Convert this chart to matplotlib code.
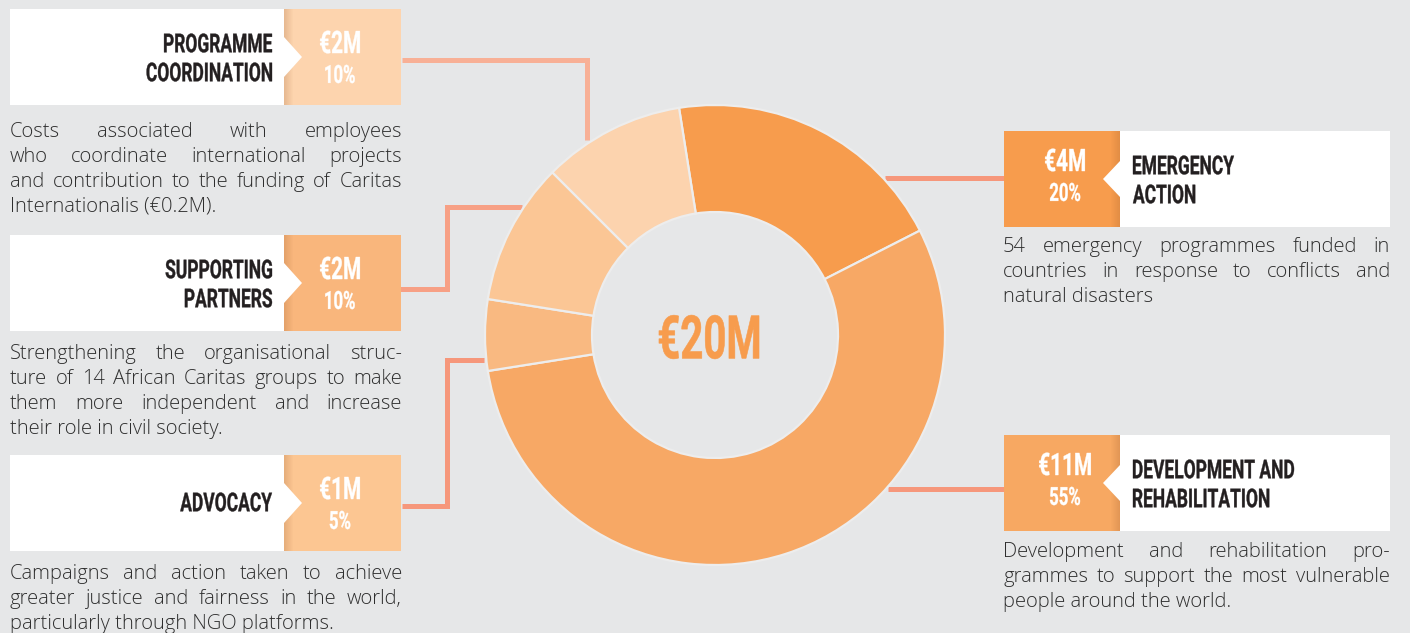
import matplotlib.pyplot as plt
from matplotlib.patches import Rectangle, Polygon, PathPatch
from matplotlib.textpath import TextPath
from matplotlib.font_manager import FontProperties
from matplotlib.transforms import Affine2D

# ==========================================
# Data (pie order, clockwise from the top)
# ==========================================

categories = ['EMERGENCY\nACTION',
              'DEVELOPMENT AND\nREHABILITATION',
              'ADVOCACY',
              'SUPPORTING\nPARTNERS',
              'PROGRAMME\nCOORDINATION']
amounts = [4, 11, 1, 2, 2]          # million euro
shares = [20, 55, 5, 10, 10]        # percent
total_label = '€20M'

descriptions = [
    ['54 emergency programmes funded in',
     'countries in response to conflicts and',
     'natural disasters'],
    ['Development and rehabilitation pro-',
     'grammes to support the most vulnerable',
     'people around the world.'],
    ['Campaigns and action taken to achieve',
     'greater justice and fairness in the world,',
     'particularly through NGO platforms.'],
    ['Strengthening the organisational struc-',
     'ture of 14 African Caritas groups to make',
     'them more independent and increase',
     'their role in civil society.'],
    ['Costs associated with employees',
     'who coordinate international projects',
     'and contribution to the funding of Caritas',
     'Internationalis (€0.2M).'],
]

# ==========================================
# Style / layout
# ==========================================

W, H = 1410, 633
BG = '#E6E7E8'
slice_colors = ['#F79C4D', '#F7A865', '#F9B981', '#FBC695', '#FCD3AE']
box_colors = ['#F79C4D', '#F7A862', '#FCC692', '#F9B67C', '#FDD4AE']
line_colors = ['#F6977B', '#F6977B', '#F6977B', '#F7A085', '#F8B096']
dark = '#231F20'
grey_text = '#2E2E2E'

body = ['Open Sans', 'DejaVu Sans']
cond_fp = FontProperties(family=['Roboto', 'DejaVu Sans'], weight='bold')
SX = 0.67          # horizontal squeeze for the narrow headline type

# side, top of box, first baseline of description
sides = ['R', 'R', 'L', 'L', 'L']
box_tops = [131, 435, 455, 235, 9]
desc_y = [252, 557, 579, 359, 137]

connectors = [
    [(885, 178), (1004, 178)],
    [(888, 489), (1004, 489)],
    [(402, 506), (447, 506), (447, 360), (484, 360)],
    [(400, 289), (447, 289), (447, 207), (522, 207)],
    [(402, 60), (587, 60), (587, 140)],
]

fig = plt.figure(figsize=(W / 100, H / 100), dpi=100, facecolor=BG)
ax = fig.add_axes([0, 0, 1, 1])
ax.set_facecolor(BG)

# ------------------------
# Donut
# ------------------------
cx, cy, r_out, r_in = 715, 335, 230, 123
ax.pie(amounts, center=(cx, cy), radius=r_out,
       startangle=-99, counterclock=True,
       colors=slice_colors,
       wedgeprops=dict(width=r_out - r_in, edgecolor='#EDEDED',
                       linewidth=1.6, zorder=3))

ax.set_xlim(0, W)
ax.set_ylim(H, 0)
ax.set_aspect('equal')
ax.set_axis_off()


def cond_text(x, y, s, em, ha, color, sx=SX, stroke=0.25):
    # narrow bold headline text, vertically centred on its glyphs
    tp = TextPath((0, 0), s, size=em, prop=cond_fp)
    bb = tp.get_extents()
    if ha == 'left':
        x0 = x - bb.x0 * sx
    elif ha == 'right':
        x0 = x - bb.x1 * sx
    else:
        x0 = x - (bb.x0 + bb.x1) / 2 * sx
    yc = (bb.y0 + bb.y1) / 2
    tr = Affine2D().translate(0, -yc).scale(sx, -1).translate(x0, y)
    ax.add_patch(PathPatch(tr.transform_path(tp), fc=color, ec=color,
                           lw=stroke, zorder=5))


cond_text(709, cy + 2, total_label, 60, 'center', '#F79C4D', stroke=0.4)

# ------------------------
# Connectors
# ------------------------
for pts, c in zip(connectors, line_colors):
    xs = [p[0] for p in pts]
    ys = [p[1] for p in pts]
    ax.plot(xs, ys, color=c, lw=3.6, solid_capstyle='butt',
            solid_joinstyle='miter', zorder=1)

# ------------------------
# Boxes
# ------------------------
fig.canvas.draw()
renderer = fig.canvas.get_renderer()
FS = 14.5


def paragraph(x, y0, width, lines, lh=25):
    for i, line in enumerate(lines):
        y = y0 + i * lh
        if i == len(lines) - 1:
            ax.text(x, y, line, ha='left', va='baseline', fontsize=FS,
                    family=body, weight='light', color=grey_text)
            continue
        words = line.split(' ')
        ts = [ax.text(0, y, w, ha='left', va='baseline', fontsize=FS,
                      family=body, weight='light', color=grey_text)
              for w in words]
        widths = [t.get_window_extent(renderer).width for t in ts]
        gap = (width - sum(widths)) / max(len(words) - 1, 1)
        xx = x
        for t, wd in zip(ts, widths):
            t.set_x(xx)
            xx += wd + gap


for i in range(len(categories)):
    top = box_tops[i]
    h = 96
    mid = top + 48
    if sides[i] == 'L':
        wx0, wx1, bx0, bx1 = 10, 284, 284, 401
    else:
        bx0, bx1, wx0, wx1 = 1004, 1120, 1120, 1390
    ax.add_patch(Rectangle((wx0, top), wx1 - wx0, h, fc='white', ec='none', zorder=2))
    ax.add_patch(Rectangle((bx0, top), bx1 - bx0, h, fc=box_colors[i], ec='none', zorder=2))

    # soft shadow next to the white box
    for k in range(9):
        a = 0.22 * (1 - k / 9)
        xs = bx0 + k if sides[i] == 'L' else bx1 - k - 1
        ax.add_patch(Rectangle((xs, top), 1, h, fc='#9A5A2A', ec='none',
                               alpha=a, zorder=2.1))

    # notch
    if sides[i] == 'L':
        tri = [(bx0, mid - 20), (bx0 + 18, mid), (bx0, mid + 20)]
    else:
        tri = [(bx1, mid - 18), (bx1 - 17, mid), (bx1, mid + 18)]
    ax.add_patch(Polygon(tri, closed=True, fc='white', ec='none', zorder=2.2))

    # labels
    lab_lines = categories[i].split('\n')
    ys = [mid - 1] if len(lab_lines) == 1 else [top + 34, top + 63]
    for ln, yy in zip(lab_lines, ys):
        if sides[i] == 'L':
            cond_text(272, yy, ln, 26, 'right', dark)
        else:
            cond_text(1133, yy, ln, 26, 'left', dark)

    ax_x = 340 if sides[i] == 'L' else 1065
    off = 2 if sides[i] == 'L' else -2
    cond_text(ax_x, top + 31 + off, '€%dM' % amounts[i], 31, 'center', 'white')
    cond_text(ax_x, top + 63 + off, '%d%%' % shares[i], 25, 'center', 'white')

    # description
    if sides[i] == 'L':
        paragraph(10, desc_y[i], 392, descriptions[i])
    else:
        paragraph(1003, desc_y[i], 387, descriptions[i])

fig.savefig('out.png', dpi=100, facecolor=BG)
